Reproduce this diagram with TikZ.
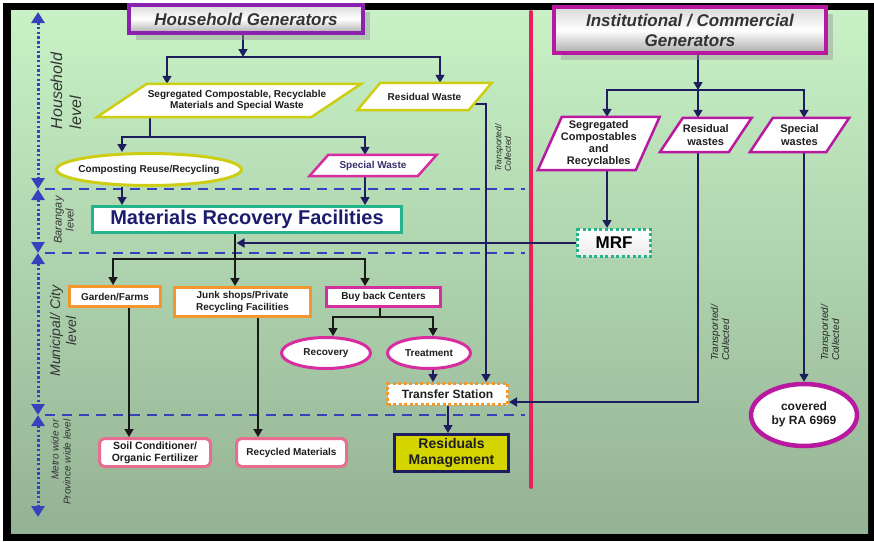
\documentclass[tikz,border=0pt]{standalone}
\usepackage{fontspec}
\setmainfont{Liberation Sans}
\usetikzlibrary{arrows.meta,shapes.geometric,shadows}
\pgfdeclarelayer{bgl}
\pgfdeclarelayer{edges}
\pgfdeclarelayer{paral}
\pgfsetlayers{bgl,edges,paral,main}
\definecolor{navyc}{RGB}{30,30,95}
\definecolor{mrfnavy}{RGB}{28,28,110}
\definecolor{lvlblue}{RGB}{55,65,190}
\definecolor{pinkln}{RGB}{235,30,95}
\definecolor{hgpurple}{RGB}{140,35,175}
\definecolor{icmag}{RGB}{185,25,160}
\definecolor{yelb}{RGB}{205,205,20}
\definecolor{mrfteal}{RGB}{35,180,140}
\definecolor{orng}{RGB}{242,150,45}
\definecolor{magb}{RGB}{215,45,160}
\definecolor{pinkb}{RGB}{232,110,145}
\definecolor{resyel}{RGB}{212,212,0}
\definecolor{gtop}{RGB}{200,242,198}
\definecolor{gbot}{RGB}{148,178,148}
\definecolor{txtc}{RGB}{30,30,30}
\definecolor{spwtxt}{RGB}{60,45,110}
\newcommand\ctrbox[1]{\makebox[0pt]{#1}}
\newcommand\parabox[4]{%
  \begin{pgfonlayer}{paral}
  \draw[draw=#2, line width=#4, fill=white, line join=miter]
    ([xshift=-#3]#1.south west) -- ([xshift=-#3]#1.south east) --
    ([xshift=#3]#1.north east) -- ([xshift=#3]#1.north west) -- cycle;
  \end{pgfonlayer}}
\tikzset{
  genbox/.style={draw=#1, line width=4pt, top color=gray!30, bottom color=gray!65, middle color=white,
    text=black!80, align=center, inner sep=0pt, font=\bfseries\itshape\fontsize{17}{20}\selectfont,
    drop shadow={shadow xshift=7pt, shadow yshift=-7pt, fill=black!40, opacity=0.45}},
  ptext/.style={inner sep=0pt, align=center, text=txtc, font=\bfseries\fontsize{10}{11.5}\selectfont},
  rbox/.style={draw=#1, line width=3pt, fill=white, inner sep=0pt, align=center, text=txtc,
    font=\bfseries\fontsize{10}{11.5}\selectfont},
  ebox/.style={ellipse, draw=#1, line width=3pt, fill=white, inner sep=0pt, align=center, text=txtc,
    font=\bfseries\fontsize{10}{11.5}\selectfont},
  lvltxt/.style={rotate=90, text=black!80, inner sep=0pt, font=\itshape},
  tctxt/.style={rotate=90, align=left, text=black!85, inner sep=0pt, font=\itshape\fontsize{8.5}{9.5}\selectfont},
  carr/.style={draw=navyc, line width=1.6pt, -{Triangle[width=9pt,length=8pt]}},
  cline/.style={draw=navyc, line width=1.6pt},
  karr/.style={draw=black!90, line width=1.6pt, -{Triangle[width=9pt,length=8pt]}},
  kline/.style={draw=black!90, line width=1.6pt},
  lvlarr/.style={draw=lvlblue, line width=3pt, dash pattern=on 2.4pt off 2.3pt,
    {Triangle[width=13pt,length=11pt]}-{Triangle[width=13pt,length=11pt]}},
  dashln/.style={draw=lvlblue, line width=2.6pt, dash pattern=on 10pt off 7pt},
}
\begin{document}
\begin{tikzpicture}[x=1pt,y=-1pt]
\useasboundingbox (0,0) rectangle (874,541);
% ---------- background ----------
\begin{pgfonlayer}{bgl}
  \fill[white] (0,0) rectangle (874,541);
  \fill[black] (3,3) rectangle (874,541);
  \fill[top color=gtop, bottom color=gbot] (11,10) rectangle (868,533);
  \coordinate (d1l) at (45,189);  \coordinate (d1r) at (525,189);
  \coordinate (d2l) at (45,253);  \coordinate (d2r) at (525,253);
  \coordinate (d3l) at (45,415);  \coordinate (d3r) at (525,415);
  \draw[dashln] (d1l) -- (d1r);
  \draw[dashln] (d2l) -- (d2r);
  \draw[dashln] (d3l) -- (d3r);
  \coordinate (pt) at (531,12); \coordinate (pb) at (531,487);
  \draw[pinkln, line width=4pt, line cap=round] (pt) -- (pb);
  \coordinate (L0) at (38,12);
  \coordinate (L1) at (38,189);
  \coordinate (L2) at (38,253);
  \coordinate (L3) at (38,415);
  \coordinate (L4) at (38,517);
  \draw[lvlarr] (L0) -- (L1);
  \draw[lvlarr] (L1) -- (L2);
  \draw[lvlarr] (L2) -- (L3);
  \draw[lvlarr] (L3) -- (L4);
\end{pgfonlayer}
% ---------- nodes ----------
\node[genbox=hgpurple, minimum width=234pt, minimum height=28pt] (hg) at (246,19) {Household Generators};
\node[genbox=icmag, minimum width=272pt, minimum height=46pt] (ic) at (690,30) {Institutional / Commercial\\Generators};

\node[ptext, minimum width=214pt, minimum height=33pt] (seg) at (229,100.5) {\hspace*{16pt}Segregated Compostable, Recyclable\\\hspace*{16pt}Materials and Special Waste};
\node[ptext, minimum width=111pt, minimum height=27pt] (res) at (424.5,96.5) {Residual Waste};
\node[ptext, text=spwtxt, minimum width=108pt, minimum height=21pt] (spw) at (373,165.5) {Special Waste};
\node[ptext, font=\bfseries\fontsize{11}{12}\selectfont, minimum width=97.5pt, minimum height=53pt] (segc) at (598.75,143.5) {Segregated\\Compostables\\and\\Recyclables};
\node[ptext, font=\bfseries\fontsize{11}{12.5}\selectfont, minimum width=68.5pt, minimum height=34pt] (rw) at (705.75,135) {Residual\\wastes};
\node[ptext, font=\bfseries\fontsize{11}{12.5}\selectfont, minimum width=76pt, minimum height=34pt] (sw) at (799.5,135) {Special\\wastes};
\parabox{seg}{yelb}{25pt}{2.5pt}
\parabox{res}{yelb}{11.5pt}{2.5pt}
\parabox{spw}{magb}{9.5pt}{2.5pt}
\parabox{segc}{icmag}{12pt}{2.5pt}
\parabox{rw}{icmag}{11.5pt}{2.5pt}
\parabox{sw}{icmag}{11.5pt}{2.5pt}

\node[ebox=yelb, minimum width=185pt, minimum height=32pt] (comp) at (149,169.5) {\ctrbox{Composting Reuse/Recycling}};
\node[rbox=mrfteal, minimum width=309pt, minimum height=26pt, text=mrfnavy, font=\bfseries\fontsize{20}{22}\selectfont] (mrfac) at (247,219.5) {Materials Recovery Facilities};
\node[rbox=mrfteal, dash pattern=on 3pt off 2.5pt, top color=white, bottom color=gray!15, minimum width=73pt, minimum height=27pt, text=black, font=\bfseries\fontsize{17}{19}\selectfont] (mrf) at (614,243) {MRF};
\node[rbox=orng, minimum width=91pt, minimum height=20pt] (garden) at (115,296.5) {Garden/Farms};
\node[rbox=orng, minimum width=136pt, minimum height=29pt] (junk) at (242.5,302) {Junk shops/Private\\Recycling Facilities};
\node[rbox=magb, minimum width=114pt, minimum height=19pt] (buy) at (383.5,297) {Buy back Centers};
\node[ebox=magb, minimum width=89pt, minimum height=31pt] (recov) at (326,353) {\ctrbox{Recovery}};
\node[ebox=magb, minimum width=83pt, minimum height=31pt] (treat) at (429,353) {\ctrbox{Treatment}};
\node[rbox=orng, dash pattern=on 3pt off 2.5pt, minimum width=120pt, minimum height=21pt, font=\bfseries\fontsize{12}{14}\selectfont] (ts) at (447.5,394) {Transfer Station};
\node[rbox=navyc, fill=resyel, minimum width=114pt, minimum height=37pt, font=\bfseries\fontsize{14}{15.5}\selectfont] (resm) at (451.5,453) {Residuals\\Management};
\node[rbox=pinkb, rounded corners=5pt, minimum width=111pt, minimum height=28pt, font=\bfseries\fontsize{10.5}{12}\selectfont] (soil) at (155,452.5) {Soil Conditioner/\\Organic Fertilizer};
\node[rbox=pinkb, rounded corners=5pt, minimum width=110pt, minimum height=28pt] (recy) at (291.5,452.5) {Recycled Materials};
\node[ebox=icmag, line width=4.5pt, minimum width=106pt, minimum height=62pt, font=\bfseries\fontsize{12}{14}\selectfont] (cov) at (804,415) {\ctrbox{\begin{tabular}{@{}c@{}}covered\\by RA 6969\end{tabular}}};

% labels
\node[tctxt] (tc1) at (503,148) {Transported/\\Collected};
\node[tctxt, font=\itshape\fontsize{10}{11}\selectfont] (tc2) at (720,333) {Transported/\\Collected};
\node[tctxt, font=\itshape\fontsize{10}{11}\selectfont] (tc3) at (830,333) {Transported/\\Collected};
\node[lvltxt, align=left, font=\itshape\fontsize{16}{19}\selectfont] (lvh) at (66,91) {Household\\level};
\node[lvltxt, align=center, font=\itshape\fontsize{11}{12}\selectfont] (lvb) at (64,220) {Barangay\\level};
\node[lvltxt, align=center, font=\itshape\fontsize{14}{16}\selectfont] (lvm) at (63,331) {Municipal/ City\\level};
\node[lvltxt, align=right, font=\itshape\fontsize{10}{12}\selectfont] (lvp) at (61,462) {Metro wide or\\Province wide level};

% ---------- connectors ----------
\begin{pgfonlayer}{edges}
  \coordinate (j1) at (243,57);
  \draw[carr] (243,0 |- hg.south) -- (j1);
  \draw[carr] (j1) -| (167,0 |- seg.north);
  \draw[carr] (j1) -| (440,0 |- res.north);
  \coordinate (j2) at (150,137);
  \draw[cline] (150,0 |- seg.south) -- (j2);
  \draw[carr] (j2) -| (122,0 |- comp.north);
  \draw[carr] (j2) -| (365,0 |- spw.north);
  \draw[carr] (122,0 |- comp.south) -- (122,0 |- mrfac.north);
  \draw[carr] (365,0 |- spw.south) -- (365,0 |- mrfac.north);
  \draw[carr] ([xshift=-6pt,yshift=-7.5pt]res.east) -| (486,0 |- ts.north);
  \draw[carr] (433,0 |- treat.south) -- (433,0 |- ts.north);
  \draw[carr] (448,0 |- ts.south) -- (448,0 |- resm.north);
  \draw[karr] (235,0 |- mrfac.south) -- (235,0 |- junk.north);
  \coordinate (j4) at (235,259);
  \draw[karr] (j4) -| (113,0 |- garden.north);
  \draw[karr] (j4) -| (365,0 |- buy.north);
  \draw[carr] (mrf.west) -- (236.5,0 |- mrf.west);
  \coordinate (j5) at (380,317);
  \draw[kline] (380,0 |- buy.south) -- (j5);
  \draw[karr] (j5) -| (333,0 |- recov.north);
  \draw[karr] (j5) -| (433,0 |- treat.north);
  \draw[karr] (129,0 |- garden.south) -- (129,0 |- soil.north);
  \draw[karr] (258,0 |- junk.south) -- (258,0 |- recy.north);
  \coordinate (j6) at (698,90);
  \draw[carr] (698,0 |- ic.south) -- (j6);
  \draw[carr] (j6) -- (698,0 |- rw.north);
  \draw[carr] (j6) -| (607,0 |- segc.north);
  \draw[carr] (j6) -| (804,0 |- sw.north);
  \draw[carr] (607,0 |- segc.south) -- (607,0 |- mrf.north);
  \draw[carr] (698,0 |- rw.south) |- ([yshift=-8pt]ts.east);
  \draw[carr] (804,0 |- sw.south) -- (cov.north);
\end{pgfonlayer}
\end{tikzpicture}
\end{document}
